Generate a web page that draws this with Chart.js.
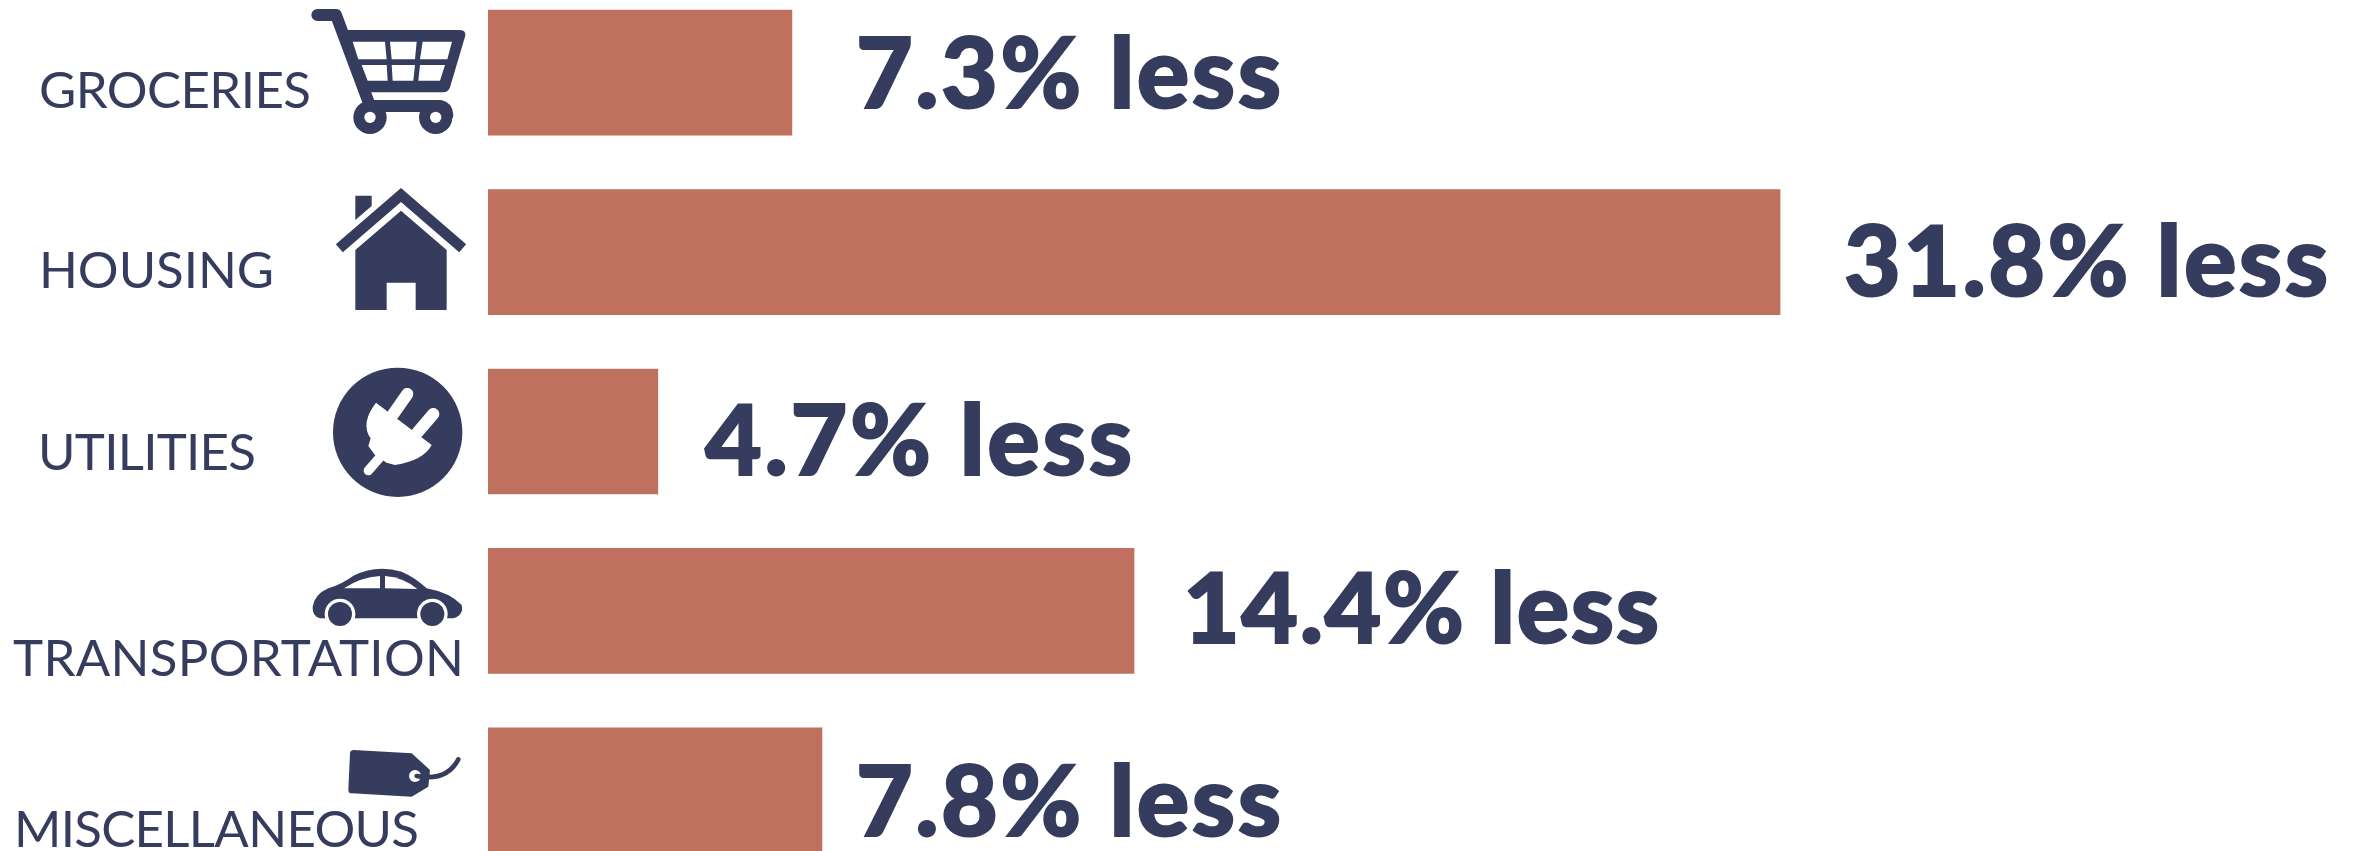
<!DOCTYPE html>
<html><head><meta charset="utf-8">
<script src="https://cdn.jsdelivr.net/npm/chart.js@4"></script>
<style>
html,body{margin:0;padding:0;background:#fff;width:2357px;height:851px;overflow:hidden}
#wrap{position:absolute;left:0;top:-17px;width:2357px;height:897px}
svg{position:absolute;left:0;top:0}
</style></head><body>
<div id="wrap"><canvas id="c" width="2357" height="897"></canvas></div>
<svg width="2357" height="851" viewBox="0 0 2357 851">
<g transform="scale(0.3333333)" fill="#353C5E">
 <!-- cart -->
 <path d="M952 45H1008L1110 318H1320Q1340 322 1342 345" fill="none" stroke="#353C5E" stroke-width="36" stroke-linecap="round" stroke-linejoin="round"/>
 <path d="M1035 90H1380Q1400 90 1395 110L1350 262Q1345 277 1330 277H1095Z"/>
 <g fill="#fff">
  <path d="M1058 125H1155L1160 178H1075Z"/><path d="M1170 125H1250L1245 178H1175Z"/><path d="M1268 125H1356L1342 178H1260Z"/>
  <path d="M1085 195H1160L1163 242H1103Z"/><path d="M1175 195H1245L1240 242H1178Z"/><path d="M1260 195H1335L1320 242H1255Z"/>
 </g>
 <circle cx="1110" cy="352" r="50"/><circle cx="1110" cy="352" r="17" fill="#fff"/>
 <circle cx="1307" cy="352" r="50"/><circle cx="1307" cy="352" r="17" fill="#fff"/>
 <!-- house -->
 <path d="M1066 587H1115V618L1066 660Z"/>
 <path d="M1018 745L1203 585L1388 745" fill="none" stroke="#353C5E" stroke-width="32"/>
 <path d="M1203 632L1340 750V930H1247V848H1160V930H1066V750Z"/>
</g>
<g transform="translate(0,340) scale(0.3333333)" fill="#353C5E">
 <!-- plug -->
 <circle cx="1193" cy="277" r="194"/>
 <g stroke="#fff" stroke-linecap="round" fill="none">
  <path d="M1180 222L1222 162" stroke-width="36"/>
  <path d="M1252 278L1300 222" stroke-width="36"/>
  <path d="M1105 392L1150 340" stroke-width="28"/>
 </g>
 <path d="M1128 188L1295 315Q1270 362 1185 375L1160 368L1125 345L1105 318L1112 295Q1080 250 1128 188Z" fill="#fff"/>
 <!-- car -->
 <path d="M938 800Q945 762 985 745Q1030 730 1060 707Q1130 672 1205 695Q1245 712 1280 745Q1350 758 1385 795Q1392 825 1360 835H960Q936 828 938 800Z"/>
 <path d="M1032 745Q1080 712 1140 708V745Z" fill="#fff"/><path d="M1155 708Q1210 712 1252 747L1155 745Z" fill="#fff"/>
 <circle cx="1020" cy="822" r="46" fill="#fff"/><circle cx="1297" cy="822" r="46" fill="#fff"/>
 <circle cx="1020" cy="822" r="36"/><circle cx="1297" cy="822" r="36"/>
 <!-- tag -->
 <path d="M1062 1230L1235 1240L1290 1290L1285 1340L1235 1370L1055 1360Q1045 1360 1045 1350L1050 1240Q1050 1230 1062 1230Z"/>
 <circle cx="1245" cy="1308" r="18" fill="#fff"/>
 <path d="M1250 1308Q1340 1325 1375 1258" fill="none" stroke="#353C5E" stroke-width="14" stroke-linecap="round"/>
</g>
</svg>
<script>
const categories = ['GROCERIES','HOUSING','UTILITIES','TRANSPORTATION','MISCELLANEOUS'];
const barLengths = [7.48, 31.8, 4.18, 15.9, 8.22];
const valueLabels = ['7.3% less','31.8% less','4.7% less','14.4% less','7.8% less'];

const NAVY = '#353C5E', BAR = '#BF705F';
const catPlace = [[39,272,108],[39,235,288],[38,218,470],[13,451,676],[14,405,847]];
const valPlace = [[856,425,108],[1844,484,296],[705,427,475],[1183,476,643],[856,425,836]];

function fitText(ctx, text, x, y, width, stroke){
  ctx.letterSpacing = '0px';
  const w = ctx.measureText(text).width;
  ctx.letterSpacing = ((width - w) / (text.length - 1)) + 'px';
  ctx.fillText(text, x, y);
  if (stroke) ctx.strokeText(text, x, y);
  ctx.letterSpacing = '0px';
}
const textPlugin = {
  id: 'textPlugin',
  afterDraw(chart){
    const ctx = chart.ctx;
    ctx.save();
    ctx.translate(0, chart.canvas.parentNode.offsetTop * -1);
    ctx.fillStyle = NAVY;
    ctx.strokeStyle = NAVY;
    ctx.lineWidth = 2;
    ctx.lineJoin = 'miter';
    ctx.textBaseline = 'alphabetic';
    ctx.textAlign = 'left';
    ctx.font = '400 51px Lato';
    categories.forEach((t,i)=>fitText(ctx,t,catPlace[i][0],catPlace[i][2],catPlace[i][1],false));
    ctx.font = '900 98px Lato';
    valueLabels.forEach((t,i)=>fitText(ctx,t,valPlace[i][0],valPlace[i][2],valPlace[i][1],true));
    ctx.restore();
  }
};
new Chart(document.getElementById('c'),{
  type:'bar',
  data:{labels:categories,datasets:[{data:barLengths,backgroundColor:BAR,borderWidth:0,barThickness:125}]},
  options:{
    indexAxis:'y',responsive:false,animation:false,
    layout:{padding:0},
    plugins:{legend:{display:false},tooltip:{enabled:false}},
    scales:{
      x:{min:0,max:46,display:false,grid:{display:false}},
      y:{display:true,border:{display:false},grid:{display:false,drawTicks:false},
         ticks:{display:false},
         afterFit(s){s.width=488;}}
    }
  },
  plugins:[textPlugin]
});
</script>
</body></html>
